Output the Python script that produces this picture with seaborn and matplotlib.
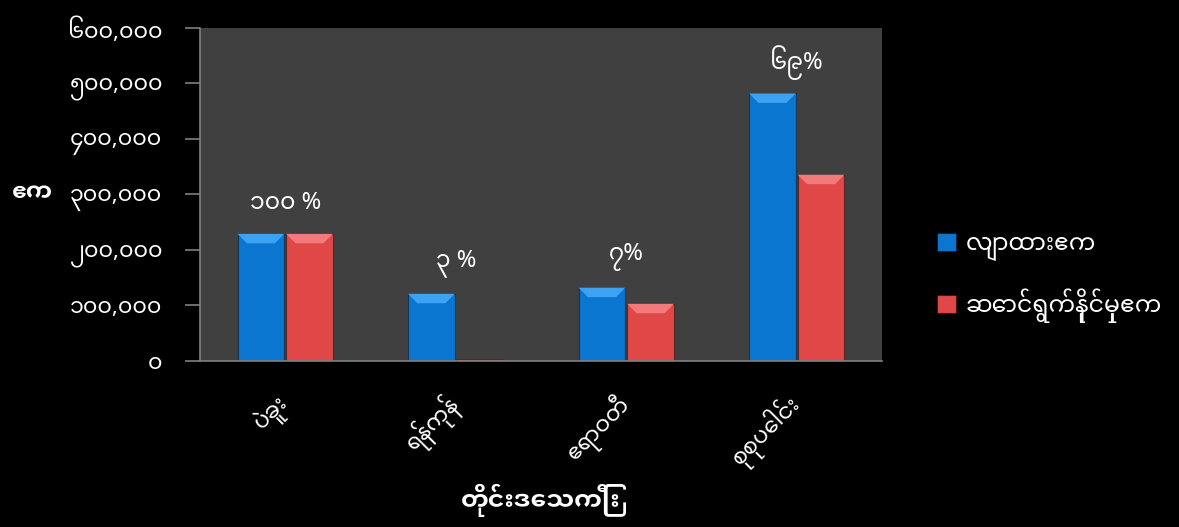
import matplotlib
matplotlib.use("Agg")
import matplotlib.pyplot as plt
from matplotlib.patches import Polygon
import seaborn as sns
import pandas as pd

# data
regions = ["ပဲခူး", "ရန်ကုန်", "ဧရာဝတီ", "စုစုပေါင်း"]
series_names = ["လျာထားဧက", "ဆောင်ရွက်နိုင်မှုဧက"]
target_acres = [229000, 121000, 132000, 482000]
achieved_acres = [229000, 3500, 103000, 335500]
pct_labels = ["၁၀၀ %", "၃ %", "၇%", "၆၉%"]
y_ticks = [0, 100000, 200000, 300000, 400000, 500000, 600000]
y_tick_labels = ["၀", "၁၀၀,၀၀၀", "၂၀၀,၀၀၀", "၃၀၀,၀၀၀", "၄၀၀,၀၀၀", "၅၀၀,၀၀၀", "၆၀၀,၀၀၀"]
x_title = "တိုင်းဒေသကြီး"
y_title = "ဧက"

df = pd.DataFrame({
    "region": regions * 2,
    "series": [series_names[0]] * 4 + [series_names[1]] * 4,
    "acres": target_acres + achieved_acres,
})

sns.set_theme(style="dark")
plt.rcParams["font.family"] = ["Noto Sans Myanmar", "DejaVu Sans"]
plt.rcParams["text.color"] = "white"
bold_font = ["Noto Sans Myanmar UI", "DejaVu Sans"]

fig = plt.figure(figsize=(11.79, 5.27), dpi=100, facecolor="black")
ax = fig.add_axes([0.1696, 0.315, 0.5785, 0.632])
ax.set_facecolor("#404040")

sns.barplot(data=df, x="region", y="acres", hue="series", order=regions,
            hue_order=series_names, palette=["#0a76d0", "#e04848"],
            width=0.57, gap=0.04, ax=ax, saturation=1)

# bevel look on the bar tops
bevel_cols = {"#0a76d0": "#3ea2f2", "#e04848": "#f27a7a"}
bars = list(ax.patches)
for bar in bars:
    bar.set_edgecolor("#00000066")
    bar.set_linewidth(0.8)
    x0, y0 = bar.get_x(), bar.get_y()
    w, h = bar.get_width(), bar.get_height()
    if h < 20000:
        continue
    fc = matplotlib.colors.to_hex(bar.get_facecolor())
    top_col = bevel_cols.get(fc, "#ffffff")
    inset = w * 0.2
    bev = 17000
    ax.add_patch(Polygon([[x0, y0 + h], [x0 + w, y0 + h],
                          [x0 + w - inset, y0 + h - bev], [x0 + inset, y0 + h - bev]],
                         closed=True, facecolor=top_col, edgecolor="none", zorder=3))

ax.set_ylim(0, 600000)
ax.set_xlim(-0.5, 3.5)
ax.set_yticks(y_ticks)
ax.set_yticklabels(y_tick_labels, fontsize=16, color="white")
ax.set_xticks(range(len(regions)))
ax.set_xticklabels(regions, fontsize=16, color="white", rotation=45,
                   ha="right", va="center", rotation_mode="anchor")
ax.tick_params(axis="x", length=0, pad=28)
ax.set_xticks([-0.5, 0.5, 1.5, 2.5, 3.5], minor=True)
ax.tick_params(axis="x", which="minor", length=11, color="#808080", width=1.2, direction="out")
ax.tick_params(axis="y", length=11, color="#808080", width=1.2, direction="out", pad=16, left=True)

for s in ["top", "right"]:
    ax.spines[s].set_visible(False)
for s in ["left", "bottom"]:
    ax.spines[s].set_visible(True)
    ax.spines[s].set_color("#808080")
    ax.spines[s].set_linewidth(1.2)
ax.grid(False)

for i, lab in enumerate(pct_labels):
    ax.text(i, target_acres[i] + 55000, lab, ha="center", va="center",
            fontsize=17, color="white")

ax.set_xlabel(x_title, fontsize=18, fontweight="bold", family=bold_font,
              color="white", labelpad=8)
ax.set_ylabel(y_title, fontsize=17, fontweight="bold", family=bold_font,
              color="white", rotation=0, va="center", ha="center")
ax.yaxis.set_label_coords(-0.245, 0.5)

leg = ax.legend(loc="center left", bbox_to_anchor=(1.05, 0.25), frameon=False,
                fontsize=17, labelspacing=1.15, handlelength=0.8, handleheight=0.8,
                handletextpad=0.4)
for t in leg.get_texts():
    t.set_color("white")

fig.savefig("out.png", dpi=100, facecolor="black")
